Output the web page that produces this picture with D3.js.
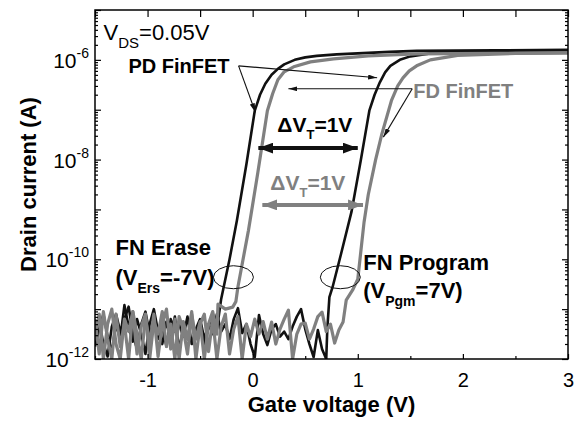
<!DOCTYPE html>
<html>
<head>
<meta charset="utf-8">
<script src="https://cdn.jsdelivr.net/npm/d3@7"></script>
<style>
body { margin: 0; background: #fff; }
svg { display: block; font-family: "Liberation Sans", Arial, sans-serif; }
</style>
</head>
<body>
<div id="chart"></div>
<script>
// Gate sweep of the noise floor (V)
const noiseV = [-1.50,-1.46,-1.42,-1.38,-1.34,-1.30,-1.26,-1.22,-1.18,-1.14,-1.10,-1.06,-1.02,-0.98,-0.94,-0.90,
  -0.86,-0.82,-0.78,-0.74,-0.70,-0.66,-0.62,-0.58,-0.54,-0.50,-0.46,-0.42,-0.38,-0.34,-0.30,-0.26,-0.22,-0.18,
  -0.14,-0.10,-0.06,-0.02,0.02,0.06,0.10,0.14,0.18,0.22,0.26,0.30,0.34,0.38,0.42,0.46,0.50,0.54,0.58,0.62,0.66,0.70];

// log10(drain current)
const pdPgmNoise = [-11.5,-11.25,-11.7,-11.95,-11.35,-11.1,-11.45,-11.2,-10.95,-11.5,-11.8,-11.3,-11.05,-11.5,-11.25,-11.6,
  -11.35,-11.75,-11.2,-11.45,-11.3,-11.55,-11.15,-11.7,-11.4,-11.2,-11.6,-11.3,-11.5,-11.1,-11.45,-11.3,-11.6,-11.2,
  -10.98,-11.48,-11.3,-11.7,-11.96,-11.12,-11.5,-11.72,-11.4,-11.3,-11.55,-11.45,-11.6,-11.35,-11.15,-11.0,-11.4,-11.7,-11.96,-11.42,-11.8,-12.0];
const fdPgmNoise = [-11.2,-11.9,-11.05,-11.6,-12.0,-11.1,-11.75,-11.3,-12.0,-11.05,-11.5,-12.0,-11.15,-11.7,-11.1,-11.95,
  -11.3,-11.0,-11.8,-11.2,-12.0,-11.25,-11.6,-11.05,-12.0,-11.3,-11.1,-11.85,-11.2,-12.0,-11.35,-11.1,-11.9,-11.4,
  -11.15,-12.0,-11.3,-11.55,-11.2,-11.5,-11.25,-11.6,-11.26,-11.7,-11.4,-11.2,-11.02,-12.0,-11.5,-11.3,-11.28,-11.6,-11.4,-11.15,-11.06,-11.45];
const pdErsNoise = [-11.75,-11.4,-11.1,-11.55,-11.85,-11.3,-11.6,-10.92,-11.35,-11.65,-11.2,-11.5,-11.9,-11.3,-11.0,
  -11.45,-11.7,-11.25,-11.55,-11.15,-11.8,-11.4,-11.6,-11.25,-11.5,-11.3,-11.7,-11.35,-11.1,-11.4];
const fdErsNoise = [-11.6,-11.1,-12.0,-11.3,-11.0,-11.7,-12.0,-11.2,-11.45,-11.05,-11.9,-11.35,-11.1,-12.0,-11.25,
  -11.5,-11.05,-11.75,-11.3,-12.0,-11.15,-11.4,-11.9,-11.1,-11.6,-11.25,-12.0,-11.3,-11.05,-11.5];

// turn-on parts of the four curves
const pdErsV   = [-0.30,-0.22,-0.15,-0.06,0.02,0.07,0.12,0.18,0.24,0.30,0.40,0.50,0.61,0.80,1.00,1.30,1.56,2.30,3.00];
const pdErsLog = [-10.80,-10.00,-9.22,-8.10,-7.02,-6.70,-6.48,-6.30,-6.18,-6.09,-6.00,-5.95,-5.92,-5.89,-5.87,-5.84,-5.82,-5.81,-5.80];
const fdErsV   = [-0.33,-0.26,-0.19,-0.16,-0.14,-0.04,0.05,0.14,0.19,0.24,0.30,0.39,0.55,0.77,1.10,1.56,2.30,3.00];
const fdErsLog = [-10.90,-11.00,-10.96,-10.85,-10.55,-9.42,-8.25,-7.02,-6.68,-6.40,-6.24,-6.14,-6.04,-5.98,-5.92,-5.88,-5.87,-5.86];
const pdPgmV   = [0.71,0.73,0.76,0.84,0.94,1.03,1.11,1.16,1.21,1.26,1.31,1.40,1.50,1.72,2.20,3.00];
const pdPgmLog = [-11.40,-10.76,-10.56,-9.90,-9.05,-8.00,-7.02,-6.70,-6.45,-6.25,-6.12,-6.00,-5.93,-5.86,-5.83,-5.81];
const fdPgmV   = [0.74,0.78,0.82,0.86,0.89,0.95,1.00,1.06,1.10,1.17,1.23,1.32,1.38,1.43,1.49,1.56,1.69,1.95,2.50,3.00];
const fdPgmLog = [-11.30,-11.68,-11.42,-11.26,-10.82,-10.62,-10.40,-9.25,-8.70,-8.00,-7.48,-6.82,-6.52,-6.36,-6.22,-6.12,-6.00,-5.91,-5.87,-5.86];

const xTickLabels = [-1, 0, 1, 2, 3];
const xHalfTicks = [-1.5, -0.5, 0.5, 1.5, 2.5];
const yTickExps = [-12, -10, -8, -6];

const width = 581, height = 421;
const margin = { top: 10, right: 13, bottom: 62, left: 95 };
const black = '#111', gray = '#808080';

const svg = d3.select('#chart').append('svg')
  .attr('width', width)
  .attr('height', height);

const x = d3.scaleLinear().domain([-1.5, 3]).range([margin.left, width - margin.right]);
const y = d3.scaleLog().domain([1e-12, 1e-5]).range([height - margin.bottom, margin.top]);
const X = v => x(v);
const Y = e => y(Math.pow(10, e));

// clip + arrow markers
const defs = svg.append('defs');
defs.append('clipPath').attr('id', 'plot')
  .append('rect')
  .attr('x', margin.left).attr('y', margin.top)
  .attr('width', width - margin.left - margin.right)
  .attr('height', height - margin.top - margin.bottom);

function marker(id, color, len, wid) {
  defs.append('marker')
    .attr('id', id)
    .attr('viewBox', `0 ${-wid / 2} ${len} ${wid}`)
    .attr('refX', len).attr('refY', 0)
    .attr('markerWidth', len).attr('markerHeight', wid)
    .attr('markerUnits', 'userSpaceOnUse')
    .attr('orient', 'auto-start-reverse')
    .append('path')
    .attr('d', `M0,${-wid / 2}L${len},0L0,${wid / 2}Z`)
    .attr('fill', color);
}
marker('thin', black, 9, 5);
marker('bigBlack', black, 15, 11);
marker('bigGray', gray, 15, 11);

// curves
const line = d3.line().x(d => X(d[0])).y(d => Y(d[1]));
const zip = (vs, es) => vs.map((v, i) => [v, es[i]]);
const curves = [
  { pts: zip(noiseV, pdPgmNoise).concat(zip(pdPgmV, pdPgmLog)), color: black, w: 2.6 },
  { pts: zip(noiseV.slice(0, 30), pdErsNoise).concat(zip(pdErsV, pdErsLog)), color: black, w: 2.6 },
  { pts: zip(noiseV, fdPgmNoise).concat(zip(fdPgmV, fdPgmLog)), color: gray, w: 3.2 },
  { pts: zip(noiseV.slice(0, 30), fdErsNoise).concat(zip(fdErsV, fdErsLog)), color: gray, w: 3.2 }
];

svg.append('g').attr('clip-path', 'url(#plot)')
  .selectAll('path')
  .data(curves)
  .enter()
  .append('path')
  .attr('d', d => line(d.pts))
  .attr('fill', 'none')
  .attr('stroke', d => d.color)
  .attr('stroke-width', d => d.w)
  .attr('stroke-linejoin', 'round');

// axes (ticks point inward)
const bottomY = height - margin.bottom;
svg.append('g').attr('transform', `translate(0,${bottomY})`)
  .call(d3.axisBottom(x).tickValues(xTickLabels).tickSize(-5).tickPadding(14).tickFormat(d => String(d)))
  .call(g => g.selectAll('text').attr('font-size', 20).attr('font-family', null).attr('fill', '#000'));
svg.append('g').attr('transform', `translate(0,${bottomY})`)
  .call(d3.axisBottom(x).tickValues(xHalfTicks).tickSize(-3).tickFormat(''));
svg.append('g').attr('transform', `translate(0,${margin.top})`)
  .call(d3.axisTop(x).tickValues(xTickLabels.concat(xHalfTicks)).tickSize(-7).tickFormat(''));

const yAll = y.ticks();
const yMajor = yAll.filter(d => Math.abs(Math.log10(d) - Math.round(Math.log10(d))) < 1e-6);
const yMinor = yAll.filter(d => !yMajor.includes(d));
[margin.left, width - margin.right].forEach((px, i) => {
  const ax = i === 0 ? d3.axisLeft : d3.axisRight;
  svg.append('g').attr('transform', `translate(${px},0)`)
    .call(ax(y).tickValues(yMajor).tickSize(-6).tickFormat(''));
  svg.append('g').attr('transform', `translate(${px},0)`)
    .call(ax(y).tickValues(yMinor).tickSize(-3).tickFormat(''));
});
svg.selectAll('.domain').remove();
svg.selectAll('.tick line').attr('stroke', '#000').attr('stroke-width', 1.2);

// frame
svg.append('rect')
  .attr('x', margin.left).attr('y', margin.top)
  .attr('width', width - margin.left - margin.right)
  .attr('height', height - margin.top - margin.bottom)
  .attr('fill', 'none').attr('stroke', '#000').attr('stroke-width', 1.5);

// y tick labels 10^n
const yLab = svg.append('g').selectAll('text')
  .data(yTickExps)
  .enter()
  .append('text')
  .attr('x', margin.left - 6)
  .attr('y', d => Y(d) + 8)
  .attr('text-anchor', 'end')
  .attr('font-size', 21);
yLab.append('tspan').text('10');
yLab.append('tspan').attr('font-size', 14).attr('dy', -10).text(d => String(d));

// axis titles
svg.append('text')
  .attr('x', (margin.left + width - margin.right) / 2)
  .attr('y', 412)
  .attr('text-anchor', 'middle')
  .attr('font-weight', 'bold')
  .attr('font-size', 22)
  .text('Gate voltage (V)');
svg.append('text')
  .attr('transform', `translate(36,${(margin.top + bottomY) / 2}) rotate(-90)`)
  .attr('text-anchor', 'middle')
  .attr('font-weight', 'bold')
  .attr('font-size', 22)
  .text('Drain current (A)');

// annotations, placed in data units
function label(v, e, parts, opts) {
  const t = svg.append('text')
    .attr('x', X(v)).attr('y', Y(e))
    .attr('fill', opts.color || '#000')
    .attr('font-weight', opts.bold ? 'bold' : null)
    .attr('font-size', opts.size);
  let shift = 0;
  parts.forEach(p => {
    const sub = p[1] || 0;
    t.append('tspan')
      .attr('dy', sub - shift)
      .attr('font-size', sub ? opts.subSize : opts.size)
      .text(p[0]);
    shift = sub;
  });
}
label(-1.419, -5.602, [['V'], ['DS', 8], ['=0.05V']], { size: 22, subSize: 15 });
label(-1.182, -6.264, [['PD FinFET']], { size: 20, bold: true });
label(1.528, -6.765, [['FD FinFET']], { size: 20, bold: true, color: gray });
label(0.235, -7.447, [['\u0394V'], ['T', 7], ['=1V']], { size: 21, subSize: 13, bold: true });
label(0.168, -8.61, [['\u0394V'], ['T', 7], ['=1V']], { size: 21, subSize: 13, bold: true, color: gray });
label(-1.305, -9.914, [['FN Erase']], { size: 22, bold: true });
label(-1.305, -10.516, [['(V'], ['Ers', 8], ['=-7V)']], { size: 22, subSize: 14, bold: true });
label(1.052, -10.215, [['FN Program']], { size: 22, bold: true });
label(1.052, -10.777, [['(V'], ['Pgm', 8], ['=7V)']], { size: 22, subSize: 14, bold: true });

// leader arrows
const leaders = [
  [[-0.134, -6.12], [0.026, -7.05]],
  [[-0.134, -6.12], [1.184, -6.36]],
  [[1.518, -6.58], [0.34, -6.58]],
  [[1.518, -6.58], [1.243, -7.55]]
];
svg.append('g').selectAll('line')
  .data(leaders)
  .enter()
  .append('line')
  .attr('x1', d => X(d[0][0])).attr('y1', d => Y(d[0][1]))
  .attr('x2', d => X(d[1][0])).attr('y2', d => Y(d[1][1]))
  .attr('stroke', black).attr('stroke-width', 1.1)
  .attr('marker-end', 'url(#thin)');

// delta-VT double arrows
const shifts = [
  { from: 0.054, to: 1.0, e: -7.77, color: black, m: 'bigBlack' },
  { from: 0.092, to: 1.05, e: -8.91, color: gray, m: 'bigGray' }
];
svg.append('g').selectAll('line')
  .data(shifts)
  .enter()
  .append('line')
  .attr('x1', d => X(d.from)).attr('x2', d => X(d.to))
  .attr('y1', d => Y(d.e)).attr('y2', d => Y(d.e))
  .attr('stroke', d => d.color).attr('stroke-width', 4)
  .attr('marker-start', d => `url(#${d.m})`)
  .attr('marker-end', d => `url(#${d.m})`);

// ellipses around the subthreshold region
const rings = [[-0.183, -10.36], [0.834, -10.36]];
svg.append('g').selectAll('ellipse')
  .data(rings)
  .enter()
  .append('ellipse')
  .attr('cx', d => X(d[0])).attr('cy', d => Y(d[1]))
  .attr('rx', 20).attr('ry', 11.5)
  .attr('fill', 'none').attr('stroke', black).attr('stroke-width', 1);
</script>
</body>
</html>
